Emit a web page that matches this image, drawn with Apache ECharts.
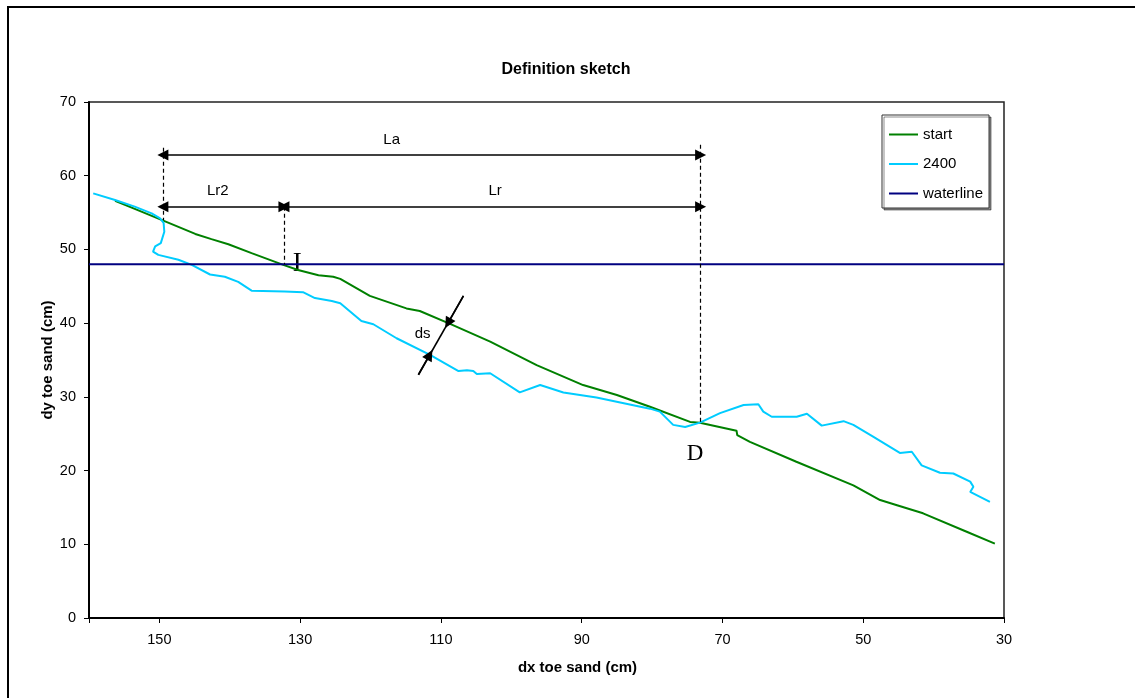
<!DOCTYPE html>
<html>
<head>
<meta charset="utf-8">
<title>Definition sketch</title>
<script src="https://cdn.jsdelivr.net/npm/echarts@6/dist/echarts.min.js"></script>
<style>
  html, body { margin: 0; padding: 0; background: #fff; overflow: hidden; }
  #chart { width: 1135px; height: 698px; }
  #frame { position: absolute; left: 7px; top: 6px; width: 2000px; height: 2000px;
           border-left: 2px solid #000; border-top: 2px solid #000; pointer-events: none; }
</style>
</head>
<body>
<div id="chart"></div>
<div id="frame"></div>
<script>
// profile at start (green)
var startX = [156.3, 153.5, 149.7, 144.9, 142.6, 140.2, 136.9, 132.4, 130.3, 127.4, 125.3, 124.3,
  120.1, 114.9, 113.0, 108.7, 103.0, 96.4, 89.8, 85.0, 80.3, 74.6, 73.2, 68.0, 67.9, 66.1,
  59.5, 51.4, 47.6, 45.2, 41.5, 35.3, 31.3];
var startY = [56.6, 55.5, 54.0, 52.1, 51.4, 50.7, 49.5, 47.9, 47.2, 46.5, 46.3, 46.0,
  43.7, 42.0, 41.65, 39.9, 37.5, 34.3, 31.6, 30.25, 28.66, 26.6, 26.5, 25.4, 24.8, 23.9,
  21.2, 18.0, 16.0, 15.3, 14.2, 11.7, 10.1];

// profile after 2400 (cyan)
var cyanX = [159.4, 156.3, 153.5, 151.1, 149.9, 149.4, 149.3, 149.8, 150.6, 150.9, 150.15, 147.3,
  145.4, 142.8, 140.7, 138.8, 136.9, 132.2, 129.6, 127.9, 125.5, 124.3, 121.3, 119.6, 116.3,
  111.55, 107.5, 106.3, 105.4, 104.9, 103.0, 98.8, 95.9, 92.6, 87.9, 80.3, 78.9, 77.0, 75.3,
  73.2, 70.35, 67.0, 64.9, 64.2, 63.0, 59.45, 58.0, 55.9, 52.8, 51.4, 48.6, 44.8, 43.1, 41.7,
  39.1, 37.2, 34.8, 34.35, 34.8, 32.0];
var cyanY = [57.6, 56.7, 55.8, 54.9, 54.2, 53.6, 52.4, 50.85, 50.4, 49.7, 49.26, 48.6,
  47.9, 46.6, 46.3, 45.6, 44.4, 44.3, 44.2, 43.4, 43.0, 42.7, 40.3, 39.85, 37.95,
  35.7, 33.5, 33.6, 33.5, 33.1, 33.2, 30.6, 31.6, 30.6, 29.9, 28.4, 28.0, 26.2, 25.9,
  26.5, 27.8, 28.9, 29.0, 28.0, 27.3, 27.3, 27.7, 26.1, 26.7, 26.2, 24.6, 22.4, 22.55, 20.7,
  19.7, 19.6, 18.5, 17.8, 17.1, 15.75];

// waterline
var waterX = [160, 30];
var waterLevel = 48;

// annotation geometry (data units)
var xS = 149.5, xI = 132.3, xD = 73.1;   // dashed verticals
var yLa = 62.8, yLr = 55.8;              // arrow levels
var dashTop = [63.8, 55.8, 64.2];
var dashBottom = [54.0, 48.0, 26.5];
var dsLine = [[106.8, 43.7], [113.2, 33.0]];
var dsTips = [[109.0, 40.0], [111.6, 35.7]];

// text annotations
var noteNames = ['La', 'Lr2', 'Lr', 'ds'];
var noteX = [117.0, 141.7, 102.3, 112.6];
var noteY = [64.9, 57.9, 57.9, 38.5];
var pointNames = ['I', 'D'];
var pointX = [130.4, 73.9];
var pointY = [48.0, 22.2];
var pointSizes = [27, 23];

function zip(xs, ys) {
  return xs.map(function (x, i) { return [x, ys[i]]; });
}

var font = 'Liberation Sans, Arial, sans-serif';
var chart = echarts.init(document.getElementById('chart'));

var dashed = [xS, xI, xD].map(function (x, i) {
  return [{ coord: [x, dashTop[i]] }, { coord: [x, dashBottom[i]] }];
});
var arrows = [
  [{ coord: [xS, yLa], symbol: 'triangle' }, { coord: [xD, yLa], symbol: 'triangle' }],
  [{ coord: [xS, yLr], symbol: 'triangle' }, { coord: [xI, yLr], symbol: 'triangle' }],
  [{ coord: [xI, yLr], symbol: 'triangle' }, { coord: [xD, yLr], symbol: 'triangle' }],
  [{ coord: dsLine[0], symbol: 'none' }, { coord: dsLine[1], symbol: 'none' }],
  [{ coord: dsLine[0], symbol: 'none' }, { coord: dsTips[0], symbol: 'triangle' }],
  [{ coord: dsLine[1], symbol: 'none' }, { coord: dsTips[1], symbol: 'triangle' }]
];

chart.setOption({
  animation: false,
  backgroundColor: '#fff',
  title: {
    text: 'Definition sketch',
    left: 566, top: 62, padding: 0, textAlign: 'center',
    textStyle: { fontFamily: font, fontSize: 16, fontWeight: 'bold', color: '#000' }
  },
  legend: {
    orient: 'vertical',
    left: 882, top: 115,
    padding: [12, 6, 7, 6],
    itemWidth: 29, itemHeight: 14, itemGap: 14.5,
    backgroundColor: '#fff',
    borderColor: '#333', borderWidth: 1,
    shadowColor: 'rgba(0,0,0,0.45)', shadowOffsetX: 2, shadowOffsetY: 2, shadowBlur: 0,
    itemStyle: { opacity: 0 },
    textStyle: { fontFamily: font, fontSize: 15, color: '#000' },
    data: ['start', '2400', 'waterline']
  },
  grid: {
    left: 89, top: 102, right: 131, bottom: 80,
    show: true, borderColor: '#222', borderWidth: 1.5
  },
  xAxis: {
    type: 'value', inverse: true,
    min: 30, max: 160, interval: 20,
    name: 'dx toe sand (cm)', nameLocation: 'middle', nameGap: 42,
    nameTextStyle: { fontFamily: font, fontSize: 15, fontWeight: 'bold', color: '#000', padding: [0, 0, 0, 62] },
    axisLine: { lineStyle: { color: '#000', width: 2 } },
    axisTick: { length: 5, lineStyle: { color: '#000' } },
    axisLabel: {
      margin: 14, fontFamily: font, fontSize: 14.5, color: '#000',
      formatter: function (v) { return v === 160 ? '' : v; }
    },
    splitLine: { show: false }
  },
  yAxis: {
    type: 'value', min: 0, max: 70, interval: 10,
    name: 'dy toe sand (cm)', nameLocation: 'middle', nameGap: 34, nameRotate: 90,
    nameMoveOverlap: false,
    nameTextStyle: { fontFamily: font, fontSize: 15, fontWeight: 'bold', color: '#000' },
    axisLine: { show: true, lineStyle: { color: '#000', width: 2 } },
    axisTick: { show: true, length: 5, lineStyle: { color: '#000' } },
    axisLabel: { margin: 13, fontFamily: font, fontSize: 14.5, color: '#000' },
    splitLine: { show: false }
  },
  series: [
    {
      name: 'start', type: 'line', symbol: 'none', silent: true,
      lineStyle: { color: '#008000', width: 2 }, itemStyle: { color: '#008000' },
      data: zip(startX, startY)
    },
    {
      name: '2400', type: 'line', symbol: 'none', silent: true,
      lineStyle: { color: '#00ccff', width: 2 }, itemStyle: { color: '#00ccff' },
      data: zip(cyanX, cyanY)
    },
    {
      name: 'waterline', type: 'line', symbol: 'none', silent: true,
      lineStyle: { color: '#000080', width: 2 }, itemStyle: { color: '#000080' },
      data: waterX.map(function (x) { return [x, waterLevel]; })
    },
    {
      // dimension arrows
      name: 'marks', type: 'line', data: [], silent: true,
      markLine: {
        silent: true, symbol: 'none', symbolSize: 11,
        label: { show: false },
        lineStyle: { color: '#000', width: 1.6, type: 'solid' },
        data: arrows
      }
    },
    {
      // dashed guides
      name: 'guides', type: 'line', data: [], silent: true,
      markLine: {
        silent: true, symbol: 'none',
        label: { show: false },
        lineStyle: { color: '#000', width: 1.2, type: [4, 3] },
        data: dashed
      }
    },
    {
      name: 'notes', type: 'scatter', symbolSize: 0, silent: true,
      itemStyle: { color: '#000' },
      label: {
        show: true, position: 'inside', formatter: '{b}', opacity: 1,
        fontFamily: font, fontSize: 15, color: '#000', textBorderWidth: 0
      },
      data: noteNames.map(function (n, i) { return { name: n, value: [noteX[i], noteY[i]] }; })
    },
    {
      name: 'points', type: 'scatter', symbolSize: 0, silent: true,
      itemStyle: { color: '#000' },
      label: {
        show: true, position: 'inside', formatter: '{b}', opacity: 1,
        fontFamily: 'Liberation Serif, Times New Roman, serif', color: '#000', textBorderWidth: 0
      },
      data: pointNames.map(function (n, i) {
        return { name: n, value: [pointX[i], pointY[i]], label: { fontSize: pointSizes[i] } };
      })
    }
  ]
});
</script>
</body>
</html>
